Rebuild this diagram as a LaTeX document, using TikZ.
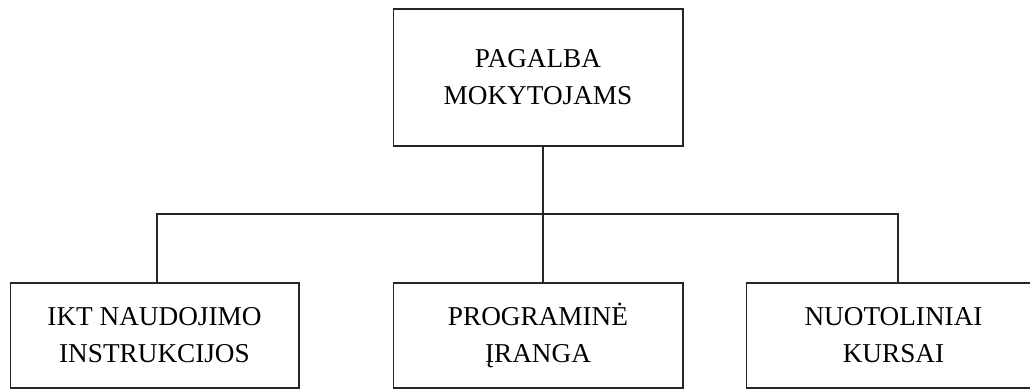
\documentclass[tikz,border=0pt]{standalone}
\usepackage{fontspec}
\setmainfont{Liberation Serif}
\begin{document}
\begin{tikzpicture}[x=0.02cm, y=-0.02cm,
    every node/.style = {shape=rectangle, draw=black!85, line width=0.6pt, align=center, inner sep=0pt,
      font=\fontsize{15.5}{21}\selectfont},
    topbox/.style = {minimum width=5.8cm, minimum height=2.74cm},
    subbox/.style = {minimum width=5.8cm, minimum height=2.1cm}]
    \useasboundingbox (0,0) rectangle (1030,389);
    \node[topbox] (pagalba) at (538,77.5) {PAGALBA\\MOKYTOJAMS};
    \node[subbox, minimum width=5.78cm] (ikt) at (154.5,335.5) {IKT NAUDOJIMO\\INSTRUKCIJOS};
    \node[subbox] (programine) at (538,335.5) {PROGRAMINĖ\\ĮRANGA};
    \node[subbox, minimum width=5.9cm] (kursai) at (893.5,335.5) {NUOTOLINIAI\\KURSAI};
    % bus
    \coordinate (bus) at (543,214);
    \coordinate (busl) at (157,214);
    \coordinate (busr) at (898,214);
    \draw[black!85, line width=0.6pt] (pagalba.south -| bus) -- (programine.north -| bus);
    \draw[black!85, line width=0.6pt] (ikt.north -| busl) -- (busl) -- (busr) -- (kursai.north -| busr);
\end{tikzpicture}
\end{document}
